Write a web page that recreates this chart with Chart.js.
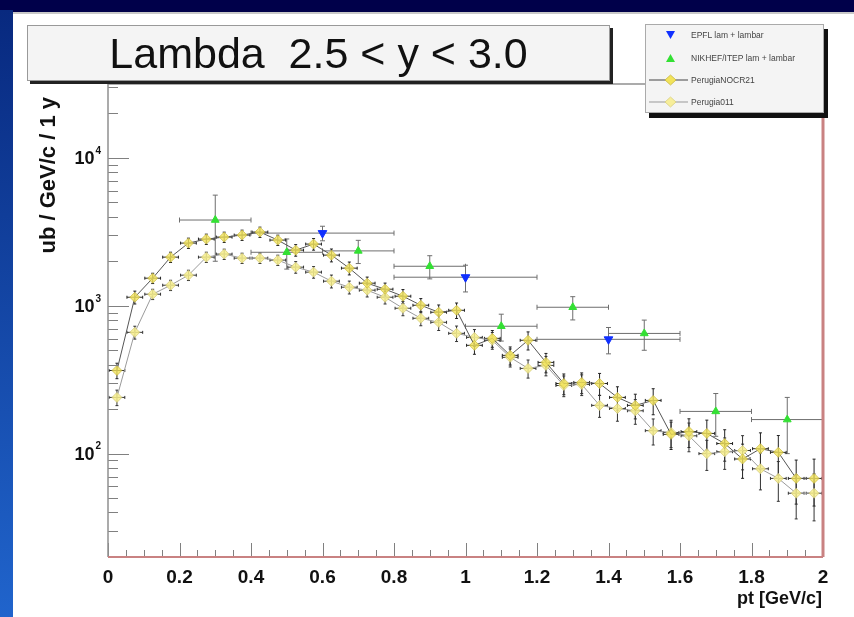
<!DOCTYPE html>
<html>
<head>
<meta charset="utf-8">
<script src="https://cdn.jsdelivr.net/npm/chart.js@4.4.0/dist/chart.umd.min.js"></script>
<style>
  html, body { margin: 0; padding: 0; }
  body {
    width: 854px; height: 617px; position: relative; overflow: hidden;
    background: #00004a; font-family: "Liberation Sans", Arial, sans-serif;
  }
  #leftband {
    position: absolute; left: 0; top: 10px; width: 13px; height: 607px;
    background: linear-gradient(#08297f, #2064cc);
  }
  #sheet {
    position: absolute; left: 13px; top: 12px; right: 0; bottom: 0;
    background: #fff; border-top: 2px solid #c8c8c8;
  }
  #myChart { position: absolute; left: 0; top: 0; }
  #title-box {
    position: absolute; left: 27px; top: 25px; width: 581px; height: 54px;
    background: #f4f4f4; border: 1px solid #999; box-shadow: 3px 3px 0 #222;
    text-align: center; font-size: 43px; line-height: 54px; color: #111;
  }
  #legend {
    position: absolute; left: 645px; top: 24px; width: 177px; height: 87px;
    background: #f4f4f4; border: 1px solid #aaa; box-shadow: 4px 5px 0 #111;
    font-size: 8.5px; color: #444;
  }
  .leg-row { position: absolute; left: 0; height: 14px; width: 177px; }
  .leg-row svg { position: absolute; left: 2px; top: 0; }
  .leg-row span { position: absolute; left: 45px; top: 2px; white-space: nowrap; }
  #ytitle {
    position: absolute; left: -42px; top: 174px; width: 180px; height: 26px;
    transform: rotate(-90deg); text-align: right;
    font-size: 22px; font-weight: bold; color: #111;
  }
  #xtitle {
    position: absolute; right: 32px; top: 588px;
    font-size: 18px; font-weight: bold; color: #111;
  }
</style>
</head>
<body>
<div id="leftband"></div>
<div id="sheet"></div>
<canvas id="myChart" width="854" height="617"></canvas>
<div id="title-box">Lambda&nbsp;&nbsp;2.5 &lt; y &lt; 3.0</div>
<div id="legend">
  <div class="leg-row" style="top:3px">
    <svg width="40" height="14"><polygon points="18,3 27,3 22.5,11" fill="#1030ff"/></svg>
    <span>EPFL lam + lambar</span>
  </div>
  <div class="leg-row" style="top:26px">
    <svg width="40" height="14"><polygon points="18,11 27,11 22.5,3" fill="#33e033"/></svg>
    <span>NIKHEF/ITEP lam + lambar</span>
  </div>
  <div class="leg-row" style="top:48px">
    <svg width="40" height="14"><line x1="1" y1="7" x2="42" y2="7" stroke="#444" stroke-width="1"/><polygon points="22.5,2 28,7 22.5,12 17,7" fill="#f2e35a" stroke="#c8b840" stroke-width="0.8"/></svg>
    <span>PerugiaNOCR21</span>
  </div>
  <div class="leg-row" style="top:70px">
    <svg width="40" height="14"><line x1="1" y1="7" x2="42" y2="7" stroke="#999" stroke-width="1"/><polygon points="22.5,2 28,7 22.5,12 17,7" fill="#f7ee9a" stroke="#d8cf80" stroke-width="0.8"/></svg>
    <span>Perugia011</span>
  </div>
</div>
<div id="ytitle">ub / GeV/c / 1 y</div>
<div id="xtitle">pt [GeV/c]</div>

<script>
// x axis tick labels and y axis decades
const xTickLabels = ["0", "0.2", "0.4", "0.6", "0.8", "1", "1.2", "1.4", "1.6", "1.8", "2"];
const yTickValues = [100, 1000, 10000];

// measurements
const epflX = [0.6, 1.0, 1.4];
const epflY = [3100, 1560, 593];
const epflErr = [350, 320, 120];

const nikhefX = [0.3, 0.5, 0.7, 0.9, 1.1, 1.3, 1.5, 1.7, 1.9];
const nikhefY = [3800, 2300, 2350, 1850, 727, 977, 650, 193, 170];
const nikhefErr = [1800, 530, 420, 330, 150, 175, 150, 62, 70];

// Perugia tunes, 0.05 GeV/c bins
const ptBins = [
  0.025, 0.075, 0.125, 0.175, 0.225, 0.275, 0.325, 0.375, 0.425, 0.475,
  0.525, 0.575, 0.625, 0.675, 0.725, 0.775, 0.825, 0.875, 0.925, 0.975,
  1.025, 1.075, 1.125, 1.175, 1.225, 1.275, 1.325, 1.375, 1.425, 1.475,
  1.525, 1.575, 1.625, 1.675, 1.725, 1.775, 1.825, 1.875, 1.925, 1.975
];
const nocr21 = [
  365, 1142, 1536, 2132, 2653, 2824, 2913, 3006, 3150, 2780,
  2378, 2612, 2200, 1796, 1421, 1294, 1160, 1008, 904, 932,
  540, 602, 462, 584, 414, 298, 303, 298, 240, 212,
  229, 135, 141, 137, 117, 92, 108, 102, 68, 68
];
const perugia011 = [
  240, 661, 1197, 1377, 1610, 2132, 2235, 2099, 2099, 2035,
  1824, 1688, 1466, 1335, 1274, 1142, 962, 823, 773, 651,
  611, 584, 448, 377, 395, 289, 294, 212, 202, 195,
  143, 139, 132, 100, 103, 105, 79, 68, 54, 54
];
// relative stat. error per bin
const perugiaRelErr = [
  0.12, 0.1, 0.08, 0.08, 0.08, 0.08, 0.08, 0.08, 0.08, 0.08,
  0.09, 0.09, 0.1, 0.1, 0.1, 0.1, 0.11, 0.11, 0.12, 0.12,
  0.13, 0.13, 0.14, 0.14, 0.15, 0.16, 0.16, 0.17, 0.18, 0.19,
  0.2, 0.21, 0.22, 0.23, 0.24, 0.26, 0.28, 0.3, 0.33, 0.35
];

// error bars drawn through the scales
const errorBars = {
  id: "errorBars",
  beforeDatasetsDraw(chart) {
    const { ctx, chartArea: a, scales: { x, y } } = chart;
    ctx.save();
    ctx.beginPath();
    ctx.rect(a.left, a.top, a.right - a.left, a.bottom - a.top);
    ctx.clip();
    chart.data.datasets.forEach((ds) => {
      if (!ds.errY) return;
      ctx.strokeStyle = ds.errColor;
      ctx.lineWidth = 1;
      const cap = ds.errCap;
      ds.data.forEach((p, j) => {
        const px = x.getPixelForValue(p.x);
        const py = y.getPixelForValue(p.y);
        const x0 = x.getPixelForValue(p.x - ds.errX);
        const x1 = x.getPixelForValue(p.x + ds.errX);
        const dy = ds.errY[j];
        const y0 = y.getPixelForValue(p.y + dy);
        const y1 = y.getPixelForValue(Math.max(p.y - dy, y.min * 0.5));
        ctx.beginPath();
        ctx.moveTo(x0, py); ctx.lineTo(x1, py);
        ctx.moveTo(px, y0); ctx.lineTo(px, y1);
        // caps
        ctx.moveTo(x0, py - cap); ctx.lineTo(x0, py + cap);
        ctx.moveTo(x1, py - cap); ctx.lineTo(x1, py + cap);
        ctx.moveTo(px - cap, y0); ctx.lineTo(px + cap, y0);
        ctx.moveTo(px - cap, y1); ctx.lineTo(px + cap, y1);
        ctx.stroke();
      });
    });
    ctx.restore();
  }
};

// ROOT style frame with ticks inside
const rootFrame = {
  id: "rootFrame",
  afterDatasetsDraw(chart) {
    const { ctx, chartArea: a, scales: { x, y } } = chart;
    ctx.save();
    ctx.lineWidth = 1;
    ctx.strokeStyle = "#808080";
    ctx.beginPath();
    for (let i = 0; i <= 40; i++) {
      const px = Math.round(x.getPixelForValue(i * 0.05)) + 0.5;
      const len = i % 4 === 0 ? 14 : 7;
      ctx.moveTo(px, a.bottom);
      ctx.lineTo(px, a.bottom - len);
    }
    for (let e = 1; e <= 5; e++) {
      for (let m = 1; m <= 9; m++) {
        const v = m * Math.pow(10, e);
        if (v < y.min || v > y.max) continue;
        const py = Math.round(y.getPixelForValue(v)) + 0.5;
        const len = m === 1 ? 21 : 10;
        ctx.moveTo(a.left, py);
        ctx.lineTo(a.left + len, py);
      }
    }
    ctx.stroke();

    // frame lines
    ctx.lineWidth = 1.5;
    ctx.strokeStyle = "#909090";
    ctx.beginPath();
    ctx.moveTo(a.left, a.bottom);
    ctx.lineTo(a.left, a.top);
    ctx.lineTo(a.right, a.top);
    ctx.stroke();
    ctx.strokeStyle = "#c98282";
    ctx.lineWidth = 2;
    ctx.beginPath();
    ctx.moveTo(a.left, a.bottom);
    ctx.lineTo(a.right, a.bottom);
    ctx.stroke();
    ctx.lineWidth = 3;
    ctx.beginPath();
    ctx.moveTo(a.right, a.top);
    ctx.lineTo(a.right, a.bottom);
    ctx.stroke();

    // y labels 10^n
    ctx.fillStyle = "#111";
    ctx.textBaseline = "middle";
    yTickValues.forEach((v) => {
      const py = y.getPixelForValue(v);
      const exp = String(Math.round(Math.log10(v)));
      ctx.font = "bold 10px 'Liberation Sans', Arial, sans-serif";
      ctx.textAlign = "right";
      ctx.fillText(exp, a.left - 7, py - 7);
      const ew = ctx.measureText(exp).width;
      ctx.font = "bold 18px 'Liberation Sans', Arial, sans-serif";
      ctx.fillText("10", a.left - 7 - ew - 1, py + 1);
    });
    ctx.restore();
  }
};

const makePoints = (xs, ys) => xs.map((v, i) => ({ x: v, y: ys[i] }));

const ctx = document.getElementById("myChart");
new Chart(ctx, {
  type: "scatter",
  data: {
    datasets: [
      {
        label: "EPFL lam + lambar",
        data: makePoints(epflX, epflY),
        pointStyle: "triangle",
        rotation: 180,
        pointRadius: 5,
        backgroundColor: "#1030ff",
        borderColor: "#1030ff",
        showLine: false,
        errX: 0.2,
        errY: epflErr,
        errColor: "#6e6e6e",
        errCap: 2.5,
      },
      {
        label: "NIKHEF/ITEP lam + lambar",
        data: makePoints(nikhefX, nikhefY),
        pointStyle: "triangle",
        pointRadius: 4.5,
        backgroundColor: "#33e033",
        borderColor: "#33e033",
        showLine: false,
        errX: 0.1,
        errY: nikhefErr,
        errColor: "#6e6e6e",
        errCap: 2.5,
      },
      {
        label: "PerugiaNOCR21",
        data: makePoints(ptBins, nocr21),
        showLine: true,
        borderColor: "#555",
        borderWidth: 1,
        pointStyle: "rectRot",
        pointRadius: 5,
        pointBackgroundColor: "rgba(242,227,90,0.8)",
        pointBorderColor: "rgba(200,184,64,0.7)",
        pointBorderWidth: 1,
        errX: 0.022,
        errY: nocr21.map((v, i) => v * perugiaRelErr[i]),
        errColor: "#222",
        errCap: 1.5,
      },
      {
        label: "Perugia011",
        data: makePoints(ptBins, perugia011),
        showLine: true,
        borderColor: "#9a9a9a",
        borderWidth: 1,
        pointStyle: "rectRot",
        pointRadius: 5,
        pointBackgroundColor: "rgba(247,238,140,0.85)",
        pointBorderColor: "rgba(210,200,120,0.7)",
        pointBorderWidth: 1,
        errX: 0.022,
        errY: perugia011.map((v, i) => v * perugiaRelErr[i]),
        errColor: "#333",
        errCap: 1.5,
      },
    ],
  },
  options: {
    responsive: false,
    animation: false,
    devicePixelRatio: 1,
    layout: { padding: { left: 48, right: 31, top: 84, bottom: 0 } },
    scales: {
      x: {
        type: "linear",
        min: 0,
        max: 2,
        grid: { display: false, drawTicks: false },
        border: { display: false },
        afterFit: (scale) => { scale.height = 60; },
        afterBuildTicks: (axis) => {
          axis.ticks = xTickLabels.map((t) => ({ value: parseFloat(t) }));
        },
        ticks: {
          autoSkip: false,
          maxRotation: 0,
          padding: 9,
          color: "#111",
          font: { family: "'Liberation Sans', Arial, sans-serif", size: 19, weight: "bold" },
          callback: (value, index) => xTickLabels[index],
        },
      },
      y: {
        type: "logarithmic",
        min: 20,
        max: 31600,
        grid: { display: false, drawTicks: false },
        border: { display: false },
        afterFit: (scale) => { scale.width = 60; },
        ticks: { display: false },
      },
    },
    plugins: {
      legend: { display: false },
      tooltip: { enabled: false },
    },
  },
  plugins: [errorBars, rootFrame],
});
</script>
</body>
</html>
